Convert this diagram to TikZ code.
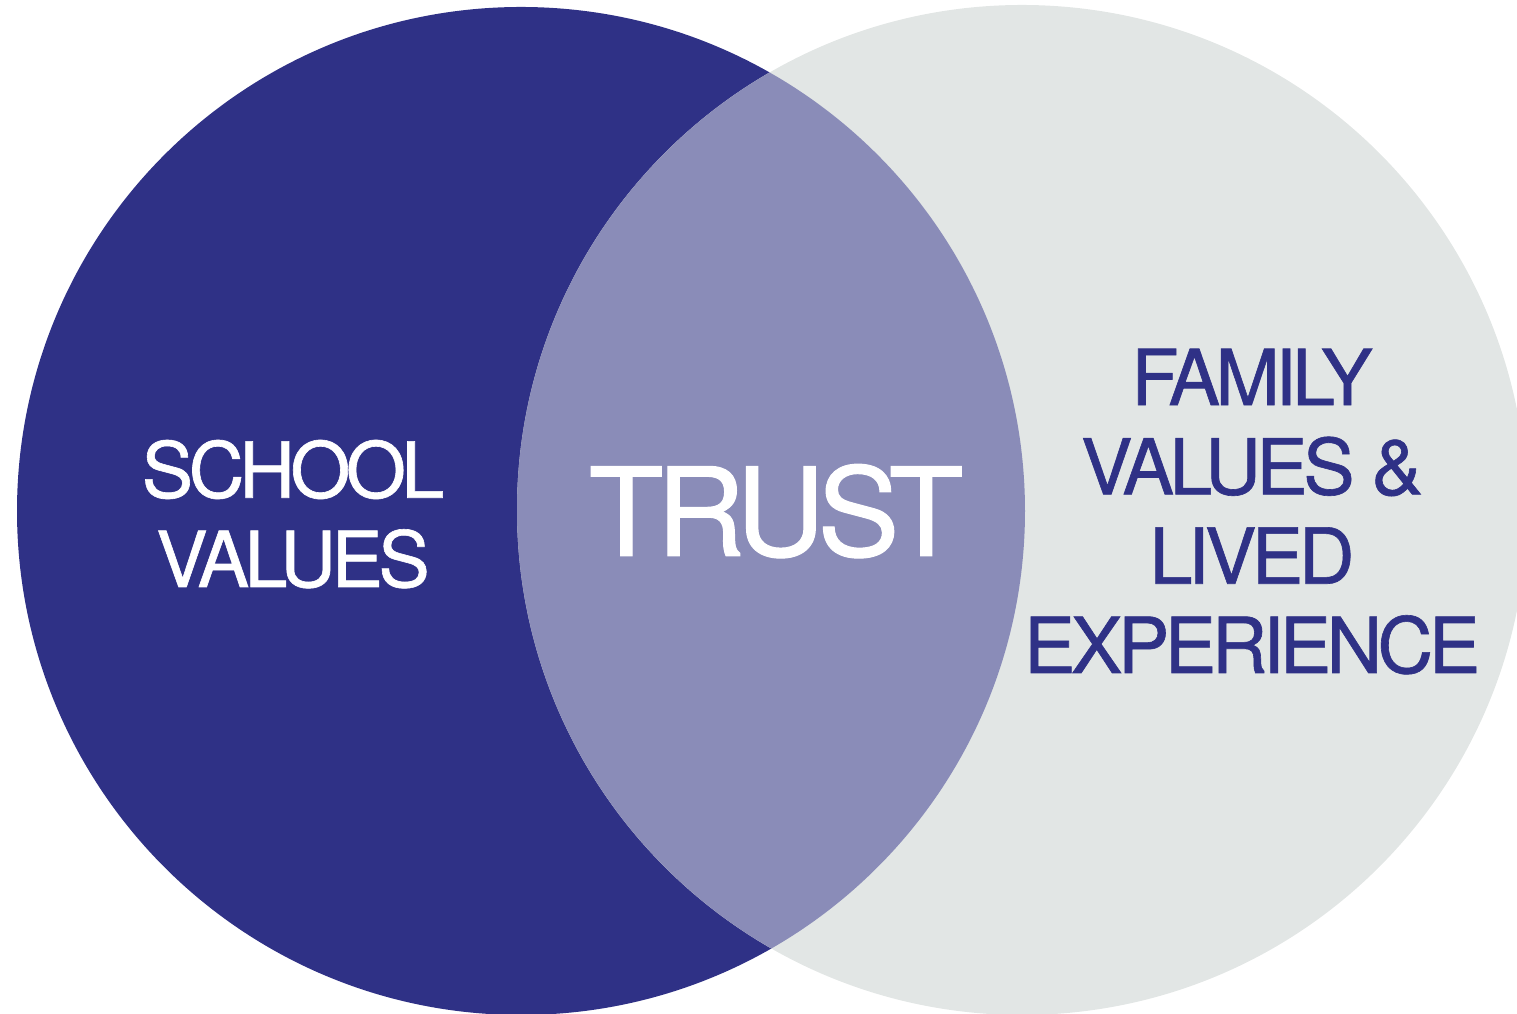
\documentclass[tikz,border=0pt]{standalone}
\usepackage{fontspec}
\newfontfamily\vennfont[LetterSpace=-6,FakeBold=0.8]{TeX Gyre Heros}
\definecolor{navy}{HTML}{2F3186}
\definecolor{mist}{HTML}{E2E6E5}
\definecolor{lens}{HTML}{8A8CB8}
\tikzset{
  side/.style={align=center,anchor=base,inner sep=0pt,font=\vennfont\fontsize{22}{25.4}\selectfont},
  core/.style={anchor=base,inner sep=0pt,text=white,font=\vennfont\fontsize{35}{40}\selectfont}
}
\begin{document}
\begin{tikzpicture}
\useasboundingbox (0,0) rectangle (15.17,10.14);
\fill [navy] (5.21,5.03) circle (5.04);
\fill [mist] (10.22,5.04) circle (5.05);
\begin{scope}
\clip (5.21,5.03) circle (5.04);
\fill [lens] (10.22,5.04) circle (5.05);
\end{scope}

\node [side,text=white] (school) at (2.93,4.27) {SCHOOL\\VALUES};
\node [core] (trust) at (7.76,4.58) {TRUST};
\node [side,text=navy] (family) at (12.52,3.41) {FAMILY\\VALUES \&\\LIVED\\EXPERIENCE};
\end{tikzpicture}
\end{document}
